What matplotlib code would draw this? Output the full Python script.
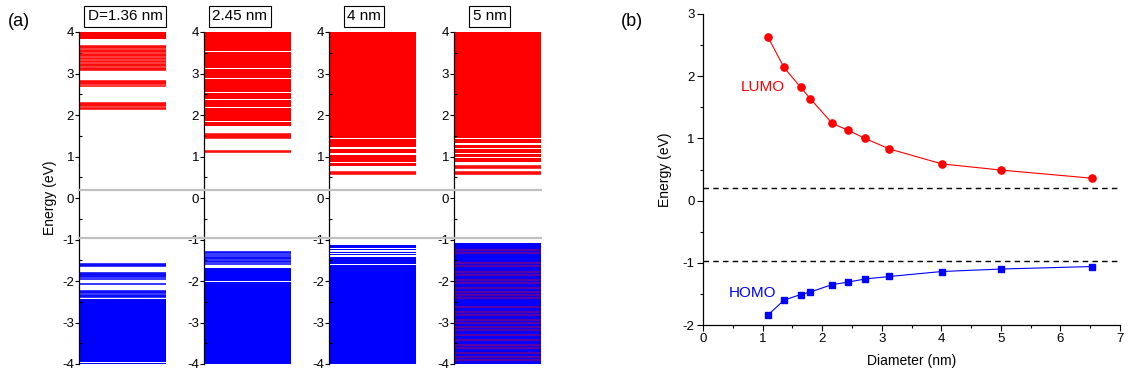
"""Energy levels of Si nanocrystals of different diameter, and HOMO/LUMO vs diameter."""

import matplotlib

matplotlib.use("Agg")
import matplotlib.pyplot as plt
from matplotlib.ticker import MultipleLocator

plt.rcParams["font.family"] = ["Liberation Sans", "DejaVu Sans"]
plt.rcParams["axes.unicode_minus"] = False

# ---------------------------------------------------------------- data (a)
panel_labels = ["D=1.36 nm", "2.45 nm", "4 nm", "5 nm"]

# single levels (eV) and densely packed level ranges (lo, hi) per diameter
cb_levels_136 = [3.67, 3.64, 3.61, 3.57, 3.54, 3.51, 3.47, 3.44, 3.41, 3.37,
                 3.34, 3.31, 3.27, 3.24, 3.21, 3.17, 3.14, 3.11, 3.08,
                 2.83, 2.80, 2.77, 2.74, 2.71,
                 2.30, 2.27, 2.24, 2.21, 2.18, 2.15]
cb_bands_136 = [(3.82, 4.00)]
vb_levels_136 = [-1.60, -1.62, -1.65, -1.80, -1.82, -1.85, -1.88, -1.90,
                 -1.95, -2.07, -2.24, -2.27, -2.30, -2.33, -2.36, -2.38]
vb_bands_136 = [(-3.94, -2.43), (-4.00, -3.965)]

cb_levels_245 = [1.44, 1.47, 1.50, 1.53, 1.55, 1.12, 1.14]
cb_bands_245 = [(3.545, 4.00), (3.135, 3.53), (2.88, 3.12), (2.555, 2.86),
                (2.38, 2.54), (2.30, 2.365), (2.19, 2.285), (2.10, 2.175),
                (2.01, 2.085), (1.91, 1.995), (1.85, 1.895), (1.74, 1.835)]
vb_levels_245 = [-1.31, -1.33, -1.37, -1.41, -1.44, -1.48, -1.51, -1.55,
                 -1.59]
vb_bands_245 = [(-2.01, -1.69), (-4.00, -2.03)]

cb_levels_400 = [0.58, 0.60, 0.62]
cb_bands_400 = [(1.45, 4.00), (1.24, 1.43), (1.08, 1.18), (0.87, 1.04),
                (0.77, 0.84)]
vb_levels_400 = []
vb_bands_400 = [(-1.215, -1.13), (-1.265, -1.24), (-1.315, -1.29),
                (-1.385, -1.34), (-1.595, -1.41), (-4.00, -1.62)]

cb_levels_500 = [0.72, 0.74, 0.76, 0.58, 0.60, 0.62]
cb_bands_500 = [(1.45, 4.00), (1.32, 1.43), (1.21, 1.28), (1.09, 1.17),
                (0.99, 1.05), (0.87, 0.96)]
vb_levels_500 = []
vb_bands_500 = [(-4.00, -1.08)]
# conduction-like states mixed into the valence band of the 5 nm crystal
mixed_levels_500 = [-1.25, -1.33, -1.57, -1.65, -1.78, -1.86, -1.98, -2.06,
                    -2.18, -2.26, -2.34, -2.42, -2.62, -2.74, -2.82, -2.94,
                    -3.02, -3.10, -3.18, -3.30, -3.42, -3.54, -3.62, -3.74,
                    -3.82, -3.90]

lumo_ref = 0.2
homo_ref = -0.97

# ---------------------------------------------------------------- data (b)
diameter_nm = [1.09, 1.36, 1.64, 1.80, 2.17, 2.44, 2.72, 3.13, 4.01, 5.01, 6.53]
lumo_ev = [2.63, 2.14, 1.82, 1.64, 1.24, 1.13, 1.00, 0.83, 0.59, 0.49, 0.36]
homo_ev = [-1.84, -1.60, -1.51, -1.47, -1.35, -1.31, -1.26, -1.22, -1.14,
           -1.10, -1.06]

W, H = 1130, 381
fig = plt.figure(figsize=(W / 100, H / 100), dpi=100)


def px_rect(left, top, right, bottom):
    return [left / W, 1 - bottom / H, (right - left) / W, (bottom - top) / H]


panels = [
    (cb_levels_136, cb_bands_136, vb_levels_136, vb_bands_136, [], 0.53),
    (cb_levels_245, cb_bands_245, vb_levels_245, vb_bands_245, [], 0.41),
    (cb_levels_400, cb_bands_400, vb_levels_400, vb_bands_400, [], 0.40),
    (cb_levels_500, cb_bands_500, vb_levels_500, vb_bands_500,
     mixed_levels_500, 0.41),
]

AX_TOP, AX_BOT = 32, 364
for i, (cb_lv, cb_bd, vb_lv, vb_bd, mixed, label_x) in enumerate(panels):
    left = 79 + 125 * i
    ax = fig.add_axes(px_rect(left, AX_TOP, left + 87, AX_BOT))
    ax.set_xlim(0, 1)
    ax.set_ylim(-4, 4)

    for lo, hi in cb_bd:
        ax.axhspan(lo, hi, color="#ff0000", lw=0)
    for lo, hi in vb_bd:
        ax.axhspan(lo, hi, color="#0000ff", lw=0)
    if cb_lv:
        ax.hlines(cb_lv, 0, 1, color="#ff0000", lw=1.1)
    if vb_lv:
        ax.hlines(vb_lv, 0, 1, color="#0000ff", lw=1.1)
    if mixed:
        ax.hlines(mixed, 0, 1, color="#ff0000", lw=1.6, alpha=0.35)

    for side in ("top", "right", "bottom"):
        ax.spines[side].set_visible(False)
    ax.spines["left"].set_linewidth(0.9)
    ax.set_xticks([])
    ax.yaxis.set_major_locator(MultipleLocator(1))
    ax.yaxis.set_minor_locator(MultipleLocator(0.5))
    ax.tick_params(axis="y", which="major", direction="out", length=3,
                   width=0.8, pad=0.5, labelsize=9.5)
    ax.tick_params(axis="y", which="minor", direction="in", length=2,
                   width=0.8)
    ax.set_facecolor("none")

    ax.text(label_x, 1 + 15.5 / (AX_BOT - AX_TOP), panel_labels[i],
            transform=ax.transAxes, ha="center", va="center", fontsize=11,
            bbox=dict(boxstyle="square,pad=0.22", fc="white", ec="black",
                      lw=0.8))
    if i == 0:
        ax.set_ylabel("Energy (eV)", fontsize=10, labelpad=4)

# grey reference levels running across all four diameters
ax_ref = fig.add_axes(px_rect(78, AX_TOP, 542, AX_BOT))
ax_ref.set_xlim(0, 1)
ax_ref.set_ylim(-4, 4)
ax_ref.axhline(lumo_ref, color="#c0c0c0", lw=1.6)
ax_ref.axhline(homo_ref, color="#c0c0c0", lw=1.6)
ax_ref.axis("off")

# ---------------------------------------------------------------- panel (b)
ax_b = fig.add_axes(px_rect(703, 14, 1120, 325))
ax_b.plot(diameter_nm, lumo_ev, "-o", color="#ff0000", lw=0.8, ms=5.2,
          clip_on=False)
ax_b.plot(diameter_nm, homo_ev, "-s", color="#0000ff", lw=0.8, ms=4.6,
          clip_on=False)
ax_b.axhline(lumo_ref, color="black", lw=1.0, ls=(0, (4, 3)))
ax_b.axhline(homo_ref, color="black", lw=1.0, ls=(0, (4, 3)))
ax_b.text(1.01, 1.83, "LUMO", color="#ff0000", fontsize=11,
          ha="center", va="center")
ax_b.text(0.83, -1.48, "HOMO", color="#0000ff", fontsize=11,
          ha="center", va="center")

ax_b.set_xlim(0, 7)
ax_b.set_ylim(-2, 3)
ax_b.xaxis.set_major_locator(MultipleLocator(1))
ax_b.xaxis.set_minor_locator(MultipleLocator(0.5))
ax_b.yaxis.set_major_locator(MultipleLocator(1))
ax_b.yaxis.set_minor_locator(MultipleLocator(0.5))
ax_b.tick_params(which="major", direction="out", length=4, width=0.8,
                 pad=2, labelsize=9.5)
ax_b.tick_params(which="minor", direction="out", length=2.5, width=0.8)
for side in ("top", "right"):
    ax_b.spines[side].set_visible(False)
for side in ("left", "bottom"):
    ax_b.spines[side].set_linewidth(0.9)
ax_b.set_xlabel("Diameter (nm)", fontsize=10, labelpad=6)
ax_b.set_ylabel("Energy (eV)", fontsize=10, labelpad=8)

fig.text(19 / W, 1 - 21 / H, "(a)", fontsize=13, ha="center", va="center")
fig.text(632 / W, 1 - 21 / H, "(b)", fontsize=13, ha="center", va="center")

fig.savefig("out.png", dpi=100)
